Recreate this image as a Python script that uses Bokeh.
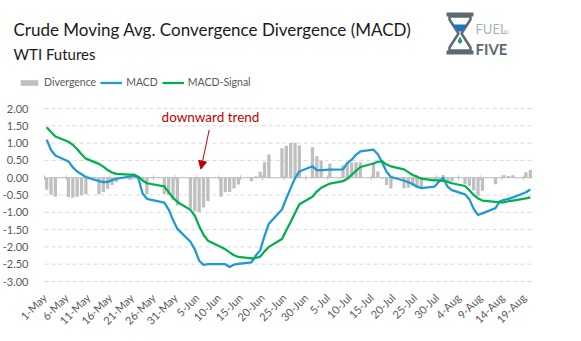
import math
import pandas as pd
from bokeh.plotting import figure
from bokeh.models import (ColumnDataSource, Range1d, FixedTicker, NumeralTickFormatter,
                          Label, Legend, LegendItem, Arrow, NormalHead)
from bokeh.embed import file_html
from bokeh.resources import INLINE

# ---------------- data ----------------
dates = [
    "2019-05-01", "2019-05-02", "2019-05-03", "2019-05-06", "2019-05-07", "2019-05-08", "2019-05-09",
    "2019-05-10", "2019-05-13", "2019-05-14", "2019-05-15", "2019-05-16", "2019-05-17", "2019-05-20",
    "2019-05-21", "2019-05-22", "2019-05-23", "2019-05-24", "2019-05-28", "2019-05-29", "2019-05-30",
    "2019-05-31", "2019-06-03", "2019-06-04", "2019-06-05", "2019-06-06", "2019-06-07", "2019-06-10",
    "2019-06-11", "2019-06-12", "2019-06-13", "2019-06-14", "2019-06-17", "2019-06-18", "2019-06-19",
    "2019-06-20", "2019-06-21", "2019-06-24", "2019-06-25", "2019-06-26", "2019-06-27", "2019-06-28",
    "2019-07-01", "2019-07-02", "2019-07-03", "2019-07-05", "2019-07-08", "2019-07-09", "2019-07-10",
    "2019-07-11", "2019-07-12", "2019-07-15", "2019-07-16", "2019-07-17", "2019-07-18", "2019-07-19",
    "2019-07-22", "2019-07-23", "2019-07-24", "2019-07-25", "2019-07-26", "2019-07-29", "2019-07-30",
    "2019-07-31", "2019-08-01", "2019-08-02", "2019-08-05", "2019-08-06", "2019-08-07", "2019-08-08",
    "2019-08-09", "2019-08-12", "2019-08-13", "2019-08-14", "2019-08-15", "2019-08-16", "2019-08-19",
    "2019-08-20",
]

divergence = [
    -0.35, -0.49, -0.55, -0.56, -0.58, -0.55, -0.51,
    -0.48, -0.48, -0.41, -0.32, -0.21, -0.13, -0.06,
    -0.03, 0.04, -0.05, -0.48, -0.47, -0.50, -0.65,
    -0.80, -0.90, -0.97, -1.00, -0.86, -0.68, -0.55,
    -0.42, -0.41, -0.31, -0.20, -0.10, 0.04, 0.17,
    0.45, 0.67, 0.85, 0.92, 1.00, 1.01, 0.93,
    0.88, 0.62, 0.50, 0.40, 0.36, 0.45, 0.44,
    0.45, 0.45, 0.40, 0.18, -0.02, -0.21, -0.31,
    -0.31, -0.29, -0.24, -0.29, -0.27, -0.06, -0.03,
    0.08, -0.11, -0.11, -0.19, -0.24, -0.37, -0.52,
    -0.38, -0.19, 0.01, 0.07, 0.05, 0.07, 0.16,
    0.22,
]

macd = [
    1.10, 0.80, 0.64, 0.47, 0.30, 0.18, 0.10,
    0.02, -0.10, -0.13, -0.12, -0.07, -0.03, 0.03,
    0.06, 0.00, -0.45, -0.61, -0.72, -0.92, -1.22,
    -1.48, -1.85, -2.07, -2.40, -2.52, -2.50, -2.50,
    -2.50, -2.58, -2.51, -2.49, -2.45, -2.25, -2.10,
    -1.68, -1.33, -0.92, -0.60, -0.30, -0.02, 0.18,
    0.33, 0.22, 0.22, 0.23, 0.24, 0.42, 0.52,
    0.66, 0.76, 0.81, 0.68, 0.44, 0.17, 0.02,
    -0.08, -0.13, -0.18, -0.26, -0.30, -0.26, -0.12,
    0.00, -0.26, -0.36, -0.48, -0.62, -0.90, -1.08,
    -1.03, -0.88, -0.68, -0.64, -0.61, -0.57, -0.42,
    -0.34,
]

signal = [
    1.46, 1.32, 1.19, 1.04, 0.95, 0.82, 0.68,
    0.55, 0.40, 0.32, 0.22, 0.15, 0.11, 0.09,
    0.09, 0.03, -0.08, -0.16, -0.25, -0.42, -0.58,
    -0.70, -0.93, -1.10, -1.40, -1.65, -1.82, -2.00,
    -2.07, -2.16, -2.24, -2.29, -2.33, -2.32, -2.28,
    -2.13, -2.00, -1.77, -1.52, -1.28, -1.02, -0.77,
    -0.55, -0.40, -0.29, -0.17, -0.10, -0.03, 0.08,
    0.20, 0.31, 0.41, 0.46, 0.47, 0.38, 0.33,
    0.24, 0.16, 0.08, 0.03, -0.03, -0.08, -0.08,
    -0.09, -0.12, -0.16, -0.24, -0.36, -0.50, -0.60,
    -0.66, -0.70, -0.71, -0.71, -0.68, -0.66, -0.60,
    -0.57,
]

tick_labels = ["1-May", "6-May", "11-May", "16-May", "21-May", "26-May", "31-May",
               "5-Jun", "10-Jun", "15-Jun", "20-Jun", "25-Jun", "30-Jun",
               "5-Jul", "10-Jul", "15-Jul", "20-Jul", "25-Jul", "30-Jul",
               "4-Aug", "9-Aug", "14-Aug", "19-Aug"]

y_ticks = [2.0, 1.5, 1.0, 0.5, 0.0, -0.5, -1.0, -1.5, -2.0, -2.5, -3.0]

# ---------------- derived coordinates (days since 1-May) ----------------
start = pd.Timestamp("2019-05-01")
xs = [(pd.Timestamp(d) - start).days + 0.5 for d in dates]
tick_pos = [int((pd.to_datetime(l + "-2019", format="%d-%b-%Y") - start).days) for l in tick_labels]
x_end = (pd.Timestamp(dates[-1]) - start).days + 1
y_min, y_max = min(y_ticks), max(y_ticks)

src = ColumnDataSource(dict(x=xs, div=divergence, macd=macd, sig=signal))

FONT = "Lato"
GREY_TXT = "#595959"
BAR_C = "#BFBFBF"
GRID_C = "#D9D9D9"
MACD_C = "#1B9AD6"
SIG_C = "#00B050"
RED = "#C00000"

# ---------------- layout geometry (pixels) ----------------
W, H = 581, 341
PL, PR, PT, PB = 44, 532, 108, 281          # plot-area edges on the canvas
xpp = x_end / (PR - PL)                     # days per pixel
ypp = (y_max - y_min) / (PB - PT)           # units per pixel

p = figure(width=W, height=H, output_backend="svg", toolbar_location=None,
           x_range=Range1d(-PL * xpp, x_end + (W - PR) * xpp),
           y_range=Range1d(y_min - (H - PB) * ypp, y_max + PT * ypp),
           min_border=0, min_border_left=0, min_border_right=0,
           min_border_top=0, min_border_bottom=0)
p.outline_line_color = None
p.background_fill_color = "white"
p.border_fill_color = "white"
p.grid.visible = False

# dashed horizontal gridlines across the plot area only
p.segment(x0=[0] * len(y_ticks), x1=[x_end] * len(y_ticks), y0=y_ticks, y1=y_ticks,
          line_color=GRID_C, line_width=1, line_dash="4 3")

bars = p.vbar(x="x", top="div", width=0.75, fill_color=BAR_C, line_color=None, source=src)
# horizontal axis line at zero with crossing tick marks
p.segment(x0=[0], x1=[x_end], y0=[0], y1=[0], line_color=BAR_C, line_width=1)
p.segment(x0=tick_pos, y0=[-0.07] * len(tick_pos), x1=tick_pos, y1=[0.07] * len(tick_pos),
          line_color=BAR_C, line_width=1)
l_macd = p.line(x="x", y="macd", line_color=MACD_C, line_width=2.25, source=src)
l_sig = p.line(x="x", y="sig", line_color=SIG_C, line_width=2.25, source=src)

# y axis (fixed at the left edge of the plot area)
yax = p.yaxis[0]
yax.fixed_location = 0
yax.ticker = FixedTicker(ticks=y_ticks, minor_ticks=[])
yax.formatter = NumeralTickFormatter(format="0.00")
yax.axis_line_color = None
yax.major_tick_line_color = None
yax.minor_tick_line_color = None
yax.major_label_text_font = FONT
yax.major_label_text_font_size = "11px"
yax.major_label_text_color = GREY_TXT
yax.major_label_standoff = 10

# x axis (labels at the bottom of the plot area)
xax = p.xaxis[0]
xax.fixed_location = y_min
xax.ticker = FixedTicker(ticks=tick_pos, minor_ticks=[])
xax.major_label_overrides = {t: l for t, l in zip(tick_pos, tick_labels)}
xax.major_label_orientation = math.pi / 4
xax.axis_line_color = None
xax.major_tick_line_color = None
xax.minor_tick_line_color = None
xax.major_label_text_font = FONT
xax.major_label_text_font_size = "11px"
xax.major_label_text_color = GREY_TXT
xax.major_label_standoff = 8

# legend
legend = Legend(items=[LegendItem(label="Divergence", renderers=[bars]),
                       LegendItem(label="MACD", renderers=[l_macd]),
                       LegendItem(label="MACD-Signal", renderers=[l_sig])],
                orientation="horizontal", location=(18, H - 88),
                border_line_color=None, background_fill_alpha=0,
                padding=0, margin=0, spacing=4, label_standoff=4,
                glyph_width=22, glyph_height=7, label_height=12,
                label_text_font=FONT, label_text_font_size="10.5px", label_text_color=GREY_TXT)
p.add_layout(legend)

# titles (screen units: from the canvas' bottom-left)
p.add_layout(Label(x=13, y=H - 29.3, x_units="screen", y_units="screen",
                   text="Crude Moving Avg. Convergence Divergence (MACD)",
                   text_font=FONT, text_font_size="17px", text_color="#1A1A1A",
                   text_baseline="alphabetic"))
p.add_layout(Label(x=13, y=H - 53.3, x_units="screen", y_units="screen",
                   text="WTI Futures", text_font=FONT, text_font_size="15px",
                   text_color="#1A1A1A", text_baseline="alphabetic"))

# annotation
p.add_layout(Label(x=38.1, y=1.76, text="downward trend", text_align="center",
                   text_baseline="alphabetic", text_color=RED,
                   text_font=FONT, text_font_size="13.5px"))
p.add_layout(Arrow(end=NormalHead(size=8, fill_color=RED, line_color=RED),
                   x_start=37.8, y_start=1.38, x_end=35.9, y_end=0.25,
                   line_color=RED, line_width=1))

# logo (decoration, pixel positions converted to the plot's coordinates)
def dx(px):
    return (px - PL) * xpp
def dy(py):
    return y_max - (py - PT) * ypp
def logo_patch(pts, **kw):
    p.patch([dx(a) for a, b in pts], [dy(b) for a, b in pts], **kw)

LOGO_GREY = "#5E6A72"
logo_patch([(446, 12), (473, 12), (473, 16), (446, 16)], fill_color=LOGO_GREY, line_color=None)
logo_patch([(446, 50), (473, 50), (473, 54), (446, 54)], fill_color=LOGO_GREY, line_color=None)
logo_patch([(449, 16), (470, 16), (470, 19), (461, 33), (470, 47), (470, 50),
            (449, 50), (449, 47), (458, 33), (449, 19)],
           fill_alpha=0, line_color=LOGO_GREY, line_width=2.5)
logo_patch([(452, 24), (467, 24), (461, 31), (458, 31)], fill_color="#1B75BB", line_color=None)
logo_patch([(459.5, 36), (462, 41), (459.5, 43.5), (457, 41)], fill_color="#1E9E6A", line_color=None)
p.add_layout(Label(x=475, y=H - 28, x_units="screen", y_units="screen", text="FUEL",
                   text_font=FONT, text_font_size="13px", text_color="#A9B3BA",
                   text_baseline="alphabetic"))
p.add_layout(Label(x=503, y=H - 31, x_units="screen", y_units="screen", text="IN",
                   text_font=FONT, text_font_size="5px", text_color="#A9B3BA",
                   text_baseline="alphabetic"))
p.add_layout(Label(x=475, y=H - 48, x_units="screen", y_units="screen", text="FIVE",
                   text_font=FONT, text_font_size="15px", text_font_style="bold",
                   text_color=LOGO_GREY, text_baseline="alphabetic"))

open("out.html", "w").write(file_html(p, INLINE))
